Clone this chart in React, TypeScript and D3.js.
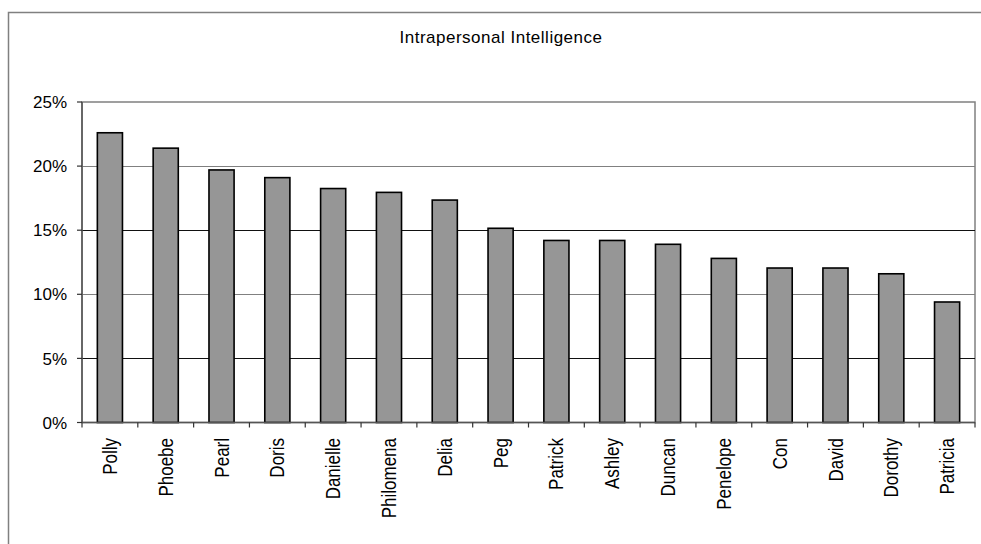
import React from "react";
import * as d3 from "d3";

const title = "Intrapersonal Intelligence";
const categories = ["Polly","Phoebe","Pearl","Doris","Danielle","Philomena","Delia","Peg","Patrick","Ashley","Duncan","Penelope","Con","David","Dorothy","Patricia"];
const values = [22.6, 21.4, 19.7, 19.1, 18.25, 17.95, 17.35, 15.15, 14.2, 14.2, 13.9, 12.8, 12.05, 12.05, 11.6, 9.4];
const yTicks = [0, 5, 10, 15, 20, 25];

const W = 981, H = 544;
const plot = { left: 82, right: 975, top: 102, bottom: 422.5 };
const FONT = "'Liberation Sans', Arial, sans-serif";

export default function App() {
  const x = d3.scaleBand<string>().domain(categories).range([plot.left, plot.right]).paddingInner(0.55).paddingOuter(0.275);
  const xb = d3.scaleBand<string>().domain(categories).range([plot.left, plot.right]);
  const y = d3.scaleLinear().domain([0, 25]).range([plot.bottom, plot.top]);
  const bounds = [plot.left, ...categories.map(c => (xb(c) as number) + xb.bandwidth())];
  return (
    <svg width={W} height={H} style={{ position: "absolute", left: 0, top: 0, background: "#fff" }} fontFamily={FONT}>
      <rect x={8.5} y={12.5} width={990} height={560} fill="#fff" stroke="#808080" strokeWidth={1.5} />
      <text x={501} y={43} textAnchor="middle" fontSize={17} letterSpacing={0.5} fill="#000">{title}</text>
      {/* plot area border */}
      <rect x={plot.left} y={plot.top} width={plot.right - plot.left} height={plot.bottom - plot.top} fill="#fff" stroke="#808080" strokeWidth={1.5} />
      {/* gridlines */}
      {yTicks.filter(t => t > 0 && t < 25).map(t => (
        <line key={t} x1={plot.left} x2={plot.right} y1={Math.round(y(t)) + 0.5} y2={Math.round(y(t)) + 0.5} stroke={t % 10 === 0 ? "#808080" : "#111"} strokeWidth={1.2} />
      ))}
      {/* bars */}
      {categories.map((c, i) => (
        <rect key={c} x={x(c)} y={y(values[i])} width={x.bandwidth()} height={y(0) - y(values[i])} fill="#969696" stroke="#000" strokeWidth={1.6} />
      ))}
      {/* y axis */}
      <line x1={plot.left} x2={plot.left} y1={plot.top} y2={plot.bottom} stroke="#555" strokeWidth={1.5} />
      {yTicks.map(t => (
        <g key={t}>
          <line x1={plot.left - 5} x2={plot.left} y1={y(t)} y2={y(t)} stroke="#333" strokeWidth={1.2} />
          <text x={67} y={y(t)} dy="0.36em" textAnchor="end" fontSize={17} fill="#000">{`${t}%`}</text>
        </g>
      ))}
      {/* x axis */}
      <line x1={plot.left} x2={plot.right} y1={plot.bottom} y2={plot.bottom} stroke="#555" strokeWidth={1.5} />
      {bounds.map((b, i) => (
        <line key={i} x1={b} x2={b} y1={plot.bottom} y2={plot.bottom + 5} stroke="#333" strokeWidth={1.2} />
      ))}
      {categories.map(c => {
        const cx = (xb(c) as number) + xb.bandwidth() / 2;
        return (
          <text key={c} transform={`translate(${cx},438) rotate(-90) scale(1,1.15)`} dy="0.36em" textAnchor="end" fontSize={17} fill="#000">{c}</text>
        );
      })}
    </svg>
  );
}
